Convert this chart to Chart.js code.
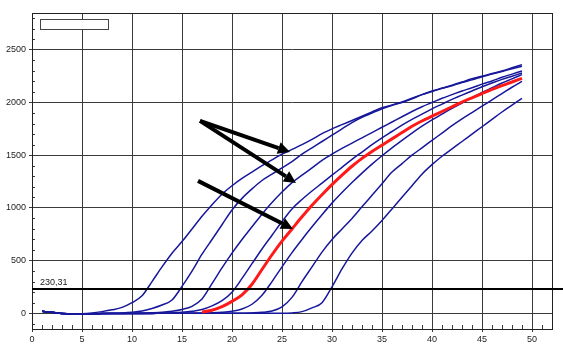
<!DOCTYPE html>
<html>
<head>
<meta charset="utf-8">
<script src="https://cdn.jsdelivr.net/npm/chart.js@4/dist/chart.umd.min.js"></script>
<style>
  html, body { margin: 0; padding: 0; background: #fff; }
  canvas { display: block; }
</style>
</head>
<body>
<canvas id="c" width="563" height="349"></canvas>
<script>
// Amplification curves: fluorescence per cycle
const cycles = [1,2,3,4,5,6,7,8,9,10,11,12,13,14,15,16,17,18,19,20,21,22,23,24,25,26,27,28,29,30,31,32,33,34,35,36,37,38,39,40,41,42,43,44,45,46,47,48,49];

const sampleA = [18,8,-3,-6,-5,2,15,32,55,100, 165,300,440,570,680,800,920,1030,1130,1210, 1280,1340,1400,1455,1510,1555,1600,1650,1705,1750, 1790,1830,1870,1910,1950,1975,2000,2035,2075,2110, 2135,2160,2190,2215,2245,2270,2295,2320,2345];
const sampleB = [18,8,-3,-7,-7,-5,-3,-1,2,8, 20,45,78,125,255,400,560,700,840,980, 1090,1180,1260,1320,1380,1440,1510,1570,1630,1690, 1750,1810,1860,1900,1940,1975,2005,2040,2075,2105, 2135,2165,2195,2225,2250,2275,2300,2330,2360];
const sampleC = [18,8,-3,-7,-7,-5,-4,-3,-2,0, 2,4,8,18,35,65,135,280,430,570, 700,820,940,1050,1150,1240,1310,1380,1450,1510, 1565,1615,1665,1715,1765,1815,1865,1915,1960,2000, 2040,2075,2110,2140,2175,2205,2240,2270,2300];
const sampleD = [18,8,-3,-7,-7,-5,-4,-3,-3,-2, -2,-1,0,3,8,18,35,70,120,200, 330,470,610,740,870,990,1080,1160,1235,1310, 1385,1460,1530,1600,1665,1725,1785,1840,1890,1940, 1985,2030,2070,2110,2150,2185,2220,2250,2280];
const sampleE = [18,8,-3,-7,-7,-5,-4,-3,-3,-2, -2,-2,-1,-1,0,0,0,3,8,18, 40,85,170,300,440,575,700,820,935,1045, 1145,1240,1330,1415,1495,1570,1640,1710,1775,1835, 1890,1945,1995,2045,2095,2140,2185,2225,2265];
const sampleF = [18,8,-3,-7,-7,-5,-4,-3,-3,-2, -2,-2,-1,-1,-1,0,0,0,0,0, 0,3,8,20,60,150,300,440,580,700, 800,900,1010,1120,1230,1340,1420,1500,1570,1640, 1710,1780,1845,1905,1965,2025,2085,2145,2200];
const sampleG = [18,8,-3,-7,-7,-5,-4,-3,-3,-2, -2,-2,-1,-1,-1,-1,0,0,0,0, 0,0,0,0,0,3,15,50,100,250, 420,570,690,780,880,990,1100,1210,1320,1410, 1490,1560,1630,1700,1770,1840,1910,1975,2040];
// highlighted sample, traced from cycle 17 on
const sampleRed = [null,null,null,null,null,null,null,null,null,null, null,null,null,null,null,null,10,28,62,112, 175,275,415,555,685,800,915,1025,1125,1220, 1310,1395,1470,1535,1595,1655,1715,1775,1825,1870, 1915,1960,2005,2045,2085,2125,2160,2195,2230];

const blueSamples = [sampleA, sampleB, sampleC, sampleD, sampleE, sampleF, sampleG];

const thresholdValue = 230.31;
const thresholdText = '230,31';

const xTicks = [0,5,10,15,20,25,30,35,40,45,50];
const yTicks = [0,500,1000,1500,2000,2500];

// arrow annotations: [tailCycle, tailValue, tipCycle, tipValue]
const arrows = [
  [16.8, 1826, 25.8, 1531],
  [16.8, 1826, 26.4, 1237],
  [16.6, 1256, 26.1, 800]
];

const BLUE = '#17179b';
const RED = '#ff1a1a';
const GRID = '#3a3a3a';
const FONT = "'Liberation Sans', Arial, sans-serif";

const datasets = blueSamples.map((s, i) => ({
  label: 'S' + (i + 1),
  data: cycles.map((c, j) => ({ x: c, y: s[j] })),
  borderColor: BLUE,
  borderWidth: 1.5,
  pointRadius: 0,
  cubicInterpolationMode: 'monotone',
  order: 1
}));
datasets.push({
  label: 'S8',
  data: cycles.map((c, j) => ({ x: c, y: sampleRed[j] })),
  borderColor: RED,
  borderWidth: 3,
  pointRadius: 0,
  cubicInterpolationMode: 'monotone',
  spanGaps: false,
  order: 0
});

const decor = {
  id: 'decor',
  beforeDatasetsDraw(chart) {
    const { ctx, chartArea: a, scales: { x, y } } = chart;
    ctx.save();
    ctx.strokeStyle = GRID;
    ctx.lineWidth = 1;
    ctx.beginPath();
    // minor ticks along the bottom axis (every cycle)
    for (let v = 1; v < 52; v++) {
      if (v % 5 === 0) continue;
      const px = Math.round(x.getPixelForValue(v)) + 0.5;
      ctx.moveTo(px, a.bottom);
      ctx.lineTo(px, a.bottom - 4);
    }
    // minor ticks along the left axis (every 100)
    for (let v = -100; v < 2850; v += 100) {
      if (v % 500 === 0) continue;
      const py = Math.round(y.getPixelForValue(v)) + 0.5;
      ctx.moveTo(a.left, py);
      ctx.lineTo(a.left + 3, py);
    }
    ctx.stroke();
    // plot frame
    ctx.strokeStyle = '#222';
    ctx.strokeRect(Math.round(a.left) + 0.5, Math.round(a.top) + 0.5, Math.round(a.right - a.left), Math.round(a.bottom - a.top));
    // empty legend box
    ctx.fillStyle = '#fff';
    ctx.fillRect(40.5, 19.5, 68, 10);
    ctx.strokeStyle = '#444';
    ctx.strokeRect(40.5, 19.5, 68, 10);
    ctx.restore();
  },
  afterDatasetsDraw(chart) {
    const { ctx, chartArea: a, scales: { x, y } } = chart;
    ctx.save();
    // threshold line
    const ty = y.getPixelForValue(thresholdValue);
    ctx.strokeStyle = '#000';
    ctx.lineWidth = 2;
    ctx.beginPath();
    ctx.moveTo(a.left, ty);
    ctx.lineTo(chart.width, ty);
    ctx.stroke();
    ctx.fillStyle = '#222';
    ctx.font = '9px ' + FONT;
    ctx.textBaseline = 'alphabetic';
    ctx.textAlign = 'left';
    ctx.fillText(thresholdText, a.left + 8, ty - 4);
    // arrows
    ctx.fillStyle = '#000';
    ctx.strokeStyle = '#000';
    arrows.forEach(([c0, v0, c1, v1]) => {
      const x0 = x.getPixelForValue(c0), y0 = y.getPixelForValue(v0);
      const x1 = x.getPixelForValue(c1), y1 = y.getPixelForValue(v1);
      const ang = Math.atan2(y1 - y0, x1 - x0);
      const headLen = 12, headHalf = 6;
      const bx = x1 - headLen * Math.cos(ang), by = y1 - headLen * Math.sin(ang);
      ctx.lineWidth = 4;
      ctx.lineCap = 'butt';
      ctx.beginPath();
      ctx.moveTo(x0, y0);
      ctx.lineTo(bx, by);
      ctx.stroke();
      ctx.beginPath();
      ctx.moveTo(x1, y1);
      ctx.lineTo(bx + headHalf * Math.sin(ang), by - headHalf * Math.cos(ang));
      ctx.lineTo(bx - headHalf * Math.sin(ang), by + headHalf * Math.cos(ang));
      ctx.closePath();
      ctx.fill();
    });
    ctx.restore();
  }
};

new Chart(document.getElementById('c'), {
  type: 'line',
  data: { datasets },
  options: {
    responsive: false,
    animation: false,
    devicePixelRatio: 1,
    layout: { padding: { top: 13, right: 11, left: 0, bottom: 0 } },
    plugins: { legend: { display: false }, tooltip: { enabled: false } },
    scales: {
      x: {
        type: 'linear',
        min: 0,
        max: 52,
        afterBuildTicks(scale) { scale.ticks = xTicks.map(v => ({ value: v })); },
        afterFit(scale) { scale.height = 20; },
        ticks: { color: '#222', font: { family: FONT, size: 9 }, padding: 2, maxRotation: 0, autoSkip: false,
                 callback: v => String(v) },
        grid: { color: GRID, lineWidth: 1, tickLength: 3, tickColor: GRID },
        border: { display: true, color: '#222' }
      },
      y: {
        type: 'linear',
        min: -150,
        max: 2850,
        afterBuildTicks(scale) { scale.ticks = yTicks.map(v => ({ value: v })); },
        afterFit(scale) { scale.width = 32; },
        ticks: { color: '#222', font: { family: FONT, size: 9 }, padding: 3,
                 callback: v => String(v) },
        grid: { color: GRID, lineWidth: 1, tickLength: 3, tickColor: GRID },
        border: { display: true, color: '#222' }
      }
    }
  },
  plugins: [decor]
});
</script>
</body>
</html>
